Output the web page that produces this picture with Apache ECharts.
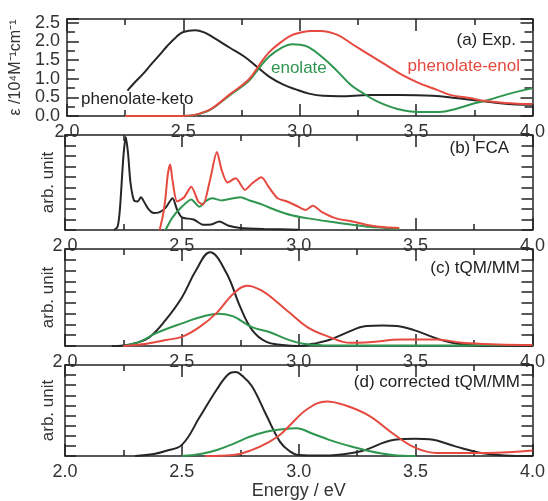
<!DOCTYPE html>
<html>
<head>
<meta charset="utf-8">
<script src="https://cdn.jsdelivr.net/npm/echarts@6/dist/echarts.min.js"></script>
<style>
  html, body { margin: 0; padding: 0; background: #fff; }
  #main { width: 548px; height: 501px; }
</style>
</head>
<body>
<div id="main"></div>
<script>
var chartDom = document.getElementById('main');
var myChart = echarts.init(chartDom);
var option;

// (a) Exp.  [energy eV, eps / 10^4 M^-1 cm^-1]
var expKeto = [[2.26,0.68],[2.29,0.89],[2.33,1.15],[2.36,1.37],[2.40,1.65],[2.43,1.87],[2.47,2.12],[2.50,2.25],[2.55,2.30],[2.59,2.24],[2.63,2.10],[2.70,1.83],[2.76,1.60],[2.82,1.30],[2.87,1.05],[2.93,0.84],[2.98,0.72],[3.04,0.60],[3.10,0.54],[3.17,0.53],[3.30,0.56],[3.43,0.56],[3.57,0.54],[3.67,0.48],[3.75,0.42],[3.85,0.35],[3.93,0.31],[4.00,0.30]];
var expEnolate = [[2.25,0],[2.50,0],[2.55,0.03],[2.60,0.12],[2.63,0.22],[2.70,0.56],[2.78,0.93],[2.83,1.32],[2.87,1.60],[2.92,1.82],[2.97,1.92],[3.00,1.91],[3.04,1.84],[3.10,1.56],[3.16,1.21],[3.22,0.83],[3.27,0.62],[3.33,0.40],[3.42,0.19],[3.51,0.11],[3.60,0.11],[3.67,0.19],[3.74,0.32],[3.81,0.43],[3.88,0.56],[3.94,0.66],[4.00,0.74]];
var expEnol = [[2.25,0],[2.50,0],[2.55,0.03],[2.60,0.13],[2.63,0.23],[2.70,0.58],[2.78,0.97],[2.83,1.40],[2.87,1.72],[2.92,1.98],[2.96,2.15],[3.00,2.23],[3.05,2.28],[3.09,2.28],[3.16,2.18],[3.23,1.91],[3.30,1.64],[3.37,1.37],[3.44,1.10],[3.51,0.89],[3.59,0.70],[3.65,0.56],[3.73,0.48],[3.80,0.40],[3.88,0.35],[4.00,0.32]];

// (b) FCA, arb. unit
var fcaKeto = [[2.21,0],[2.225,0.3],[2.235,2.0],[2.25,7.0],[2.26,8.8],[2.27,7.2],[2.28,4.5],[2.295,2.8],[2.31,2.7],[2.325,3.1],[2.34,2.6],[2.36,1.9],[2.38,1.6],[2.405,1.7],[2.43,2.1],[2.46,3.0],[2.48,1.9],[2.50,1.2],[2.55,1.0],[2.59,0.5],[2.63,0.55],[2.66,0.8],[2.70,0.4],[2.75,0.2],[2.85,0.1],[3.00,0.03]];
var fcaEnol = [[2.405,0],[2.42,1.5],[2.43,3.1],[2.44,5.3],[2.45,6.2],[2.46,4.7],[2.48,2.7],[2.51,3.1],[2.54,4.1],[2.57,2.7],[2.59,2.4],[2.62,4.7],[2.65,7.4],[2.67,5.7],[2.695,4.5],[2.73,4.9],[2.77,3.8],[2.80,4.4],[2.84,5.0],[2.874,4.0],[2.91,3.0],[2.95,2.7],[2.99,2.3],[3.03,1.9],[3.06,2.3],[3.10,1.7],[3.16,1.1],[3.23,0.8],[3.30,0.45],[3.37,0.25],[3.43,0.2]];
var fcaEnolate = [[2.43,0],[2.46,1.2],[2.50,2.2],[2.54,2.9],[2.575,2.2],[2.60,2.7],[2.63,3.0],[2.67,2.8],[2.72,3.0],[2.75,3.1],[2.79,2.8],[2.845,2.4],[2.90,1.9],[2.97,1.4],[3.04,1.1],[3.13,0.8],[3.23,0.5],[3.30,0.3],[3.43,0.1]];

// (c) tQM/MM
var tqmKeto = [[2.20,0],[2.25,0.05],[2.30,0.25],[2.36,0.8],[2.43,2.4],[2.50,4.5],[2.56,7.0],[2.62,8.7],[2.69,6.8],[2.75,3.6],[2.80,1.5],[2.86,0.4],[2.93,0.1],[3.00,0],[3.06,0.2],[3.13,0.55],[3.20,1.2],[3.29,1.85],[3.36,1.9],[3.42,1.85],[3.49,1.5],[3.59,0.7],[3.68,0.2],[3.80,0],[4.00,0]];
var tqmEnol = [[2.25,0],[2.35,0.2],[2.43,0.55],[2.50,0.85],[2.575,1.75],[2.65,3.1],[2.72,4.85],[2.78,5.6],[2.845,5.1],[2.90,4.2],[2.96,3.1],[3.04,1.7],[3.13,0.85],[3.22,0.3],[3.30,0.35],[3.44,0.6],[3.59,0.6],[3.70,0.3],[3.85,0.15],[4.00,0.1]];
var tqmEnolate = [[2.25,0],[2.32,0.4],[2.39,1.2],[2.50,2.1],[2.60,2.8],[2.66,3.0],[2.72,2.75],[2.80,1.75],[2.874,1.3],[2.96,0.55],[3.02,0.2],[3.10,0.08],[3.50,0.05],[4.00,0.1]];

// (d) corrected tQM/MM
var ctqmKeto = [[2.30,0],[2.38,0.2],[2.43,0.5],[2.50,1.1],[2.575,3.8],[2.65,6.6],[2.70,8.1],[2.73,8.3],[2.76,7.9],[2.80,6.9],[2.86,4.1],[2.92,1.4],[2.96,0.5],[3.00,0.1],[3.10,0.05],[3.16,0.1],[3.27,0.5],[3.41,1.6],[3.50,1.7],[3.56,1.65],[3.67,0.95],[3.78,0.3],[3.88,0.05],[4.00,0]];
var ctqmEnol = [[2.60,0],[2.72,0.1],[2.80,0.6],[2.87,1.35],[2.92,2.1],[2.96,3.0],[3.04,4.7],[3.12,5.4],[3.20,5.0],[3.30,4.0],[3.41,2.1],[3.50,0.8],[3.59,0.3],[3.75,0.3],[3.87,0.35],[4.00,0.55]];
var ctqmEnolate = [[2.50,0],[2.58,0.2],[2.65,0.6],[2.72,1.2],[2.79,1.9],[2.86,2.4],[2.93,2.65],[2.99,2.75],[3.06,2.2],[3.13,1.6],[3.20,1.1],[3.30,0.5],[3.40,0.1],[3.50,0]];

var energyTicks = ['2.0', '2.5', '3.0', '3.5', '4.0'];
var epsTicks = ['0.0', '0.5', '1.0', '1.5', '2.0', '2.5'];

var FONT = 'Liberation Sans';
var C_BLACK = '#262626', C_RED = '#e5493f', C_GREEN = '#2f9650';

var grids = [
    {left: 65, right: 14, top: 19, height: 97},
    {left: 65, right: 14, top: 135, height: 95},
    {left: 65, right: 14, top: 249, height: 97},
    {left: 65, right: 14, top: 365, height: 95}
];

function xAx(i, pos) {
    return {
        type: 'value', gridIndex: i, position: pos,
        min: 2, max: 4, interval: 0.5,
        axisLine: {show: true, onZero: false, lineStyle: {color: '#222', width: 1.5}},
        axisTick: {show: true, inside: true, length: 12, lineStyle: {color: '#222', width: 1.5}},
        minorTick: {show: true, splitNumber: 2, length: 6, lineStyle: {color: '#222', width: 1.5}},
        splitLine: {show: false},
        axisLabel: {
            show: pos === 'bottom', margin: 7, fontSize: 18, color: '#333', fontFamily: FONT,
            formatter: function (v) { return energyTicks[Math.round((v - 2) / 0.5)] || ''; }
        },
        name: (i === 3 && pos === 'bottom') ? 'Energy / eV' : '',
        nameLocation: 'middle', nameGap: 26,
        nameTextStyle: {fontSize: 18, color: '#333', fontFamily: FONT}
    };
}

function yAx(i, pos) {
    var isExp = i === 0;
    var ax = {
        type: 'value', gridIndex: i, position: pos,
        min: 0, max: isExp ? 2.6 : 9, interval: isExp ? 0.5 : 1,
        axisLine: {show: true, onZero: false, lineStyle: {color: '#222', width: 1.5}},
        axisTick: {show: true, inside: true, length: isExp ? 12 : 11, lineStyle: {color: '#222', width: 1.5}},
        minorTick: {show: isExp, splitNumber: 2, length: 8, lineStyle: {color: '#222', width: 1.5}},
        splitLine: {show: false},
        axisLabel: {
            show: isExp && pos === 'left', margin: 7, fontSize: 18, color: '#333', fontFamily: FONT,
            showMaxLabel: false,
            formatter: function (v) { return epsTicks[Math.round(v / 0.5)] || ''; }
        }
    };
    if (pos === 'left') {
        ax.name = isExp ? 'ε /10⁴M⁻¹cm⁻¹' : 'arb. unit';
        ax.nameLocation = 'middle';
        ax.nameRotate = 90;
        ax.nameGap = isExp ? 34 : 8;
        ax.nameTextStyle = {fontSize: isExp ? 16 : 17, color: '#333', fontFamily: FONT};
    }
    return ax;
}

var xAxes = [], yAxes = [];
for (var i = 0; i < 4; i++) {
    xAxes.push(xAx(i, 'bottom'));   // index 2i
    xAxes.push(xAx(i, 'top'));      // index 2i+1
    yAxes.push(yAx(i, 'left'));
    yAxes.push(yAx(i, 'right'));
}

function line(data, panel, color, smooth) {
    return {
        type: 'line', data: data, xAxisIndex: panel * 2, yAxisIndex: panel * 2,
        showSymbol: false, smooth: smooth, clip: true,
        lineStyle: {color: color, width: 2}
    };
}

function label(text, x, y, color, align) {
    return {
        type: 'text', x: x, y: y,
        style: {text: text, fill: color, font: '17px "' + FONT + '"', textAlign: align, textVerticalAlign: 'middle'}
    };
}

option = {
    backgroundColor: '#fff',
    animation: false,
    grid: grids,
    xAxis: xAxes,
    yAxis: yAxes,
    series: [
        line(expKeto, 0, C_BLACK, 0.4),
        line(expEnolate, 0, C_GREEN, 0.4),
        line(expEnol, 0, C_RED, 0.4),
        line(fcaKeto, 1, C_BLACK, 0.25),
        line(fcaEnolate, 1, C_GREEN, 0.25),
        line(fcaEnol, 1, C_RED, 0.25),
        line(tqmKeto, 2, C_BLACK, 0.4),
        line(tqmEnolate, 2, C_GREEN, 0.4),
        line(tqmEnol, 2, C_RED, 0.4),
        line(ctqmKeto, 3, C_BLACK, 0.4),
        line(ctqmEnolate, 3, C_GREEN, 0.4),
        line(ctqmEnol, 3, C_RED, 0.4)
    ],
    graphic: [
        label('(a) Exp.', 516, 40, '#222', 'right'),
        label('phenolate-enol', 520, 66, C_RED, 'right'),
        label('enolate', 271, 68, C_GREEN, 'left'),
        label('phenolate-keto', 81, 99, '#222', 'left'),
        label('(b) FCA', 509, 148, '#222', 'right'),
        label('(c) tQM/MM', 520, 268, '#222', 'right'),
        label('(d) corrected tQM/MM', 520, 382, '#222', 'right')
    ]
};

option && myChart.setOption(option);
</script>
</body>
</html>
